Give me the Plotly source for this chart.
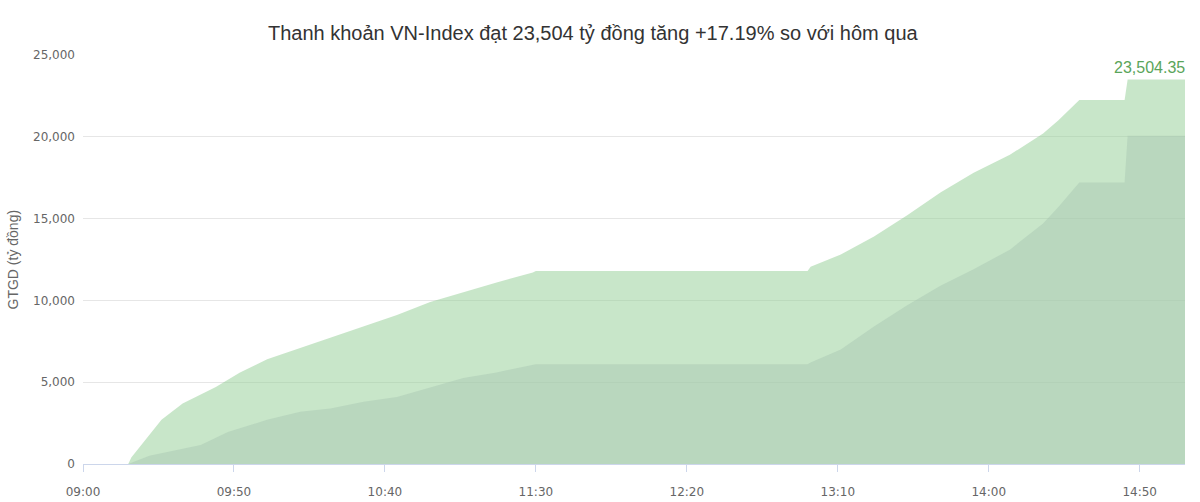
import plotly.graph_objects as go

DAY = "2024-01-01 "

today_times = ["09:15", "09:16", "09:26", "09:33", "09:44", "09:52", "10:01", "10:12", "10:22",
               "10:33", "10:44", "10:55", "11:06", "11:17", "11:29", "11:30", "13:00", "13:01",
               "13:11", "13:22", "13:33", "13:44", "13:55", "14:07", "14:18", "14:23", "14:30",
               "14:45", "14:46", "15:05"]
today_values = [0, 400, 2700, 3700, 4700, 5600, 6400, 7100, 7700,
                8400, 9100, 9900, 10500, 11100, 11700, 11800, 11800, 12050,
                12800, 13900, 15200, 16600, 17800, 18900, 20200, 21000, 22250,
                22250, 23504.35, 23504.35]

prev_times = ["09:15", "09:22", "09:39", "09:48", "10:01", "10:12", "10:22", "10:33", "10:44",
              "10:55", "11:06", "11:17", "11:29", "11:30", "13:00", "13:01", "13:11", "13:22",
              "13:33", "13:44", "13:55", "14:07", "14:18", "14:23", "14:30", "14:45", "14:46",
              "15:05"]
prev_values = [0, 500, 1160, 1960, 2700, 3200, 3400, 3800, 4100,
               4700, 5260, 5600, 6050, 6100, 6100, 6200, 7000, 8400,
               9700, 10900, 11900, 13100, 14700, 15700, 17200, 17200, 20057,
               20057]

title_text = "Thanh khoản VN-Index đạt 23,504 tỷ đồng tăng +17.19% so với hôm qua"
y_title = "GTGD (tỷ đồng)"
last_label = "23,504.35"

fig = go.Figure()
fig.add_trace(go.Scatter(
    x=[DAY + t for t in today_times], y=today_values, mode="lines",
    line=dict(width=0, color="rgba(145,205,147,0.5)"),
    fill="tozeroy", fillcolor="rgba(145,205,147,0.5)", hoverinfo="skip", showlegend=False))
fig.add_trace(go.Scatter(
    x=[DAY + t for t in prev_times], y=prev_values, mode="lines",
    line=dict(width=0, color="rgba(170,200,179,0.5)"),
    fill="tozeroy", fillcolor="rgba(170,200,179,0.5)", hoverinfo="skip", showlegend=False))

fig.add_annotation(x=DAY + today_times[-1], y=today_values[-1], text=last_label,
                   showarrow=False, xanchor="right", yanchor="bottom", yshift=1, xshift=2,
                   font=dict(family="Liberation Sans, Arial", size=16, color="#5aa55a"))
fig.add_annotation(xref="paper", yref="paper", x=0, y=0.5, xshift=-71, text=y_title,
                   textangle=-90, showarrow=False, xanchor="center", yanchor="middle",
                   font=dict(family="Liberation Sans, Arial", size=14, color="#666666"))

fig.update_layout(
    width=1200, height=502,
    margin=dict(l=83, r=15, t=55, b=38, autoexpand=False),
    paper_bgcolor="white", plot_bgcolor="white",
    title=dict(text=title_text, x=0.494, xanchor="center", y=1 - 33 / 502, yanchor="middle",
               font=dict(family="Liberation Sans, Arial", size=20, color="#333333")),
    xaxis=dict(type="date", range=[DAY + "09:00", DAY + "15:05"],
               tick0=DAY + "09:00", dtick=50 * 60 * 1000, tickformat="%H:%M",
               showgrid=False, showline=True, linecolor="#ccd6eb", linewidth=1,
               ticks="outside", ticklen=7, tickcolor="#ccd6eb",
               ticklabelstandoff=10, automargin=False,
               tickfont=dict(family="DejaVu Sans, Verdana", size=12, color="#666666"),
               zeroline=False, fixedrange=True),
    yaxis=dict(range=[0, 25000], dtick=5000, tickformat=",", showgrid=True,
               gridcolor="#e6e6e6", gridwidth=1, zeroline=False, showline=False,
               ticks="", ticklabelstandoff=7, automargin=False,
               tickfont=dict(family="DejaVu Sans, Verdana", size=12, color="#666666")),
)

fig.write_html("out.html")
